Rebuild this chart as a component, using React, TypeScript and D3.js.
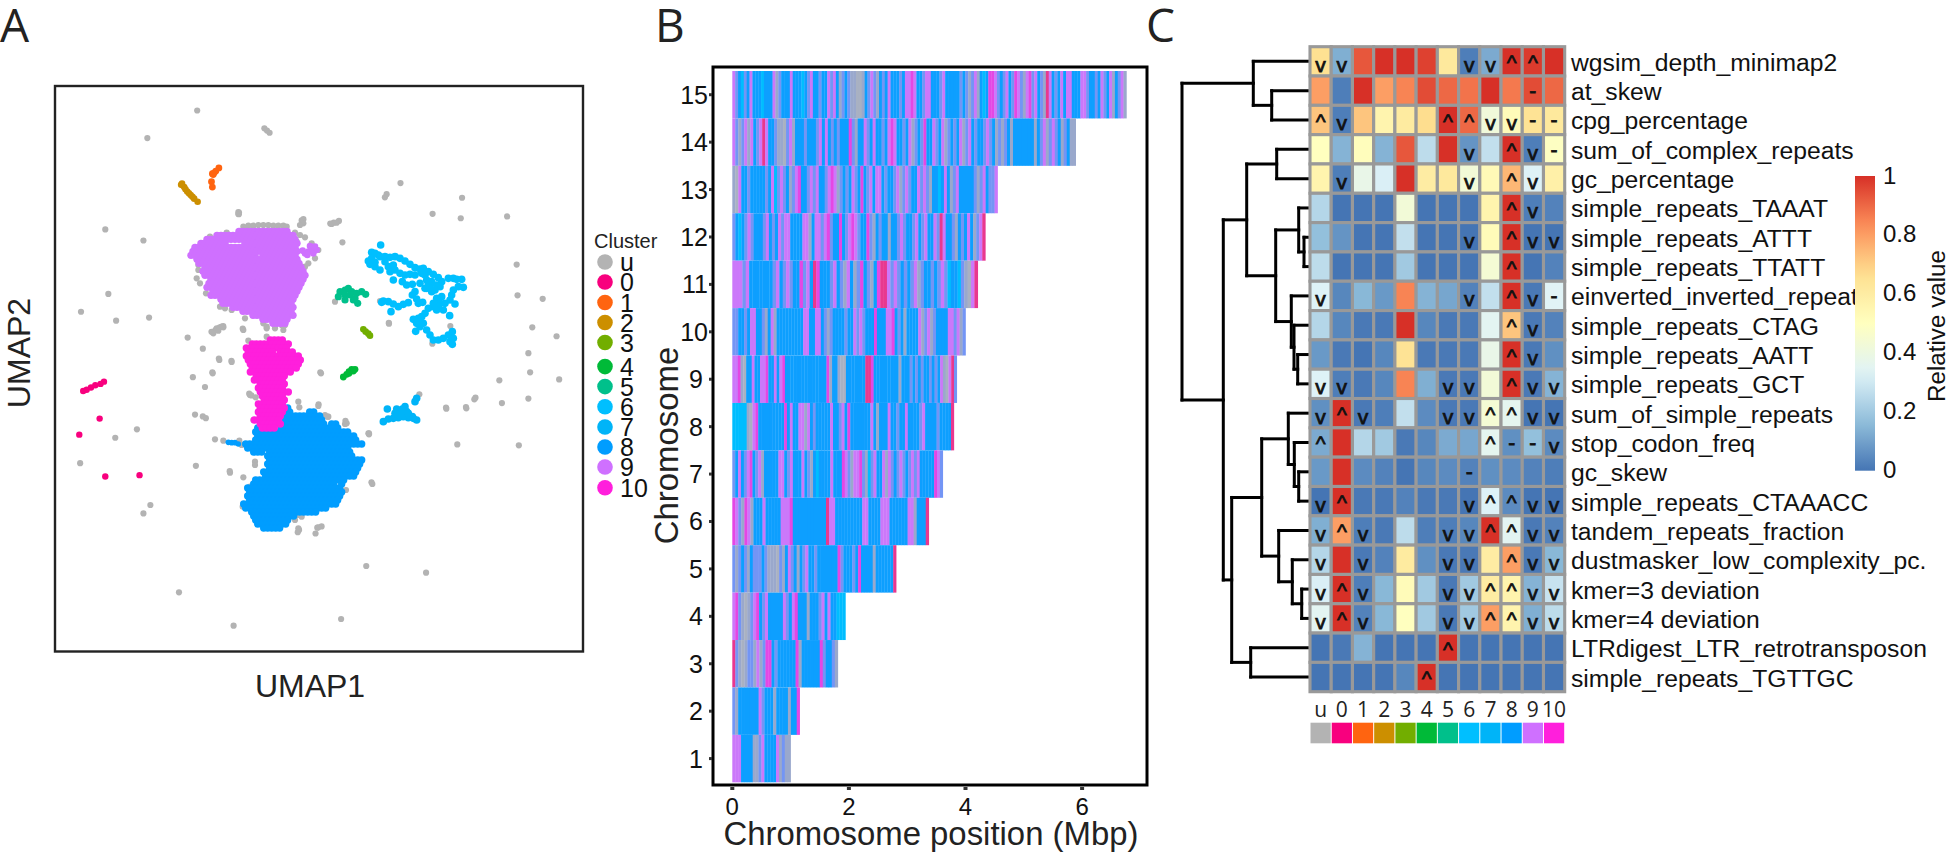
import React from "react";
import * as d3 from "d3";

const SANS = "'Liberation Sans', Arial, sans-serif";
const HUMAN = "'Open Sans', sans-serif";

// ---------- cluster legend ----------
const clusterNames = ["u", "0", "1", "2", "3", "4", "5", "6", "7", "8", "9", "10"];
const clusterColors = ["#b3b3b3", "#f8007e", "#ff6410", "#cc8f00", "#72ae00", "#00ba38", "#00c08b", "#00bfff", "#00b4f8", "#009dff", "#cf70ff", "#ff1fdc"];

const grayOverview = [[455,248],[340,310],[610,288],[616,293],[622,298],[924,411],[892,436],[888,443],[1066,444],[998,480],[1063,490],[1170,486],[243,515],[331,540],[550,476],[551,481],[696,495],[700,492],[762,502],[770,500],[782,496],[790,544],[1192,594],[250,660],[187,700],[268,720],[344,713],[1194,663],[1252,671],[1228,735],[1284,755],[1219,793],[1223,836],[1152,854],[1290,852],[1097,893],[1075,914],[1158,905],[1219,895],[1029,915],[1055,998],[1197,1000],[433,758],[468,783],[505,805],[534,810],[490,836],[445,847],[473,869],[488,745],[497,741],[507,735],[515,732],[560,738],[575,884],[580,888],[450,931],[468,935],[475,939],[739,836],[735,908],[266,983],[316,964],[185,1040],[452,1046],[347,1134],[331,1153],[530,1058],[845,1271],[983,1286],[413,1330],[539,1405],[787,1390],[857,1083],[850,973],[797,945],[897,725],[690,1190],[732,1185],[728,1198],[742,1182],[687,1195]];
const grayCropTop = [[190,50],[205,47],[220,47],[235,45],[250,45],[265,45],[280,47],[295,47],[310,47],[320,50],[140,68],[90,80],[65,100],[345,68],[360,75],[375,82],[350,95],[370,40],[360,45],[455,42],[470,38],[177,8],[175,12],[395,100],[415,120],[405,145],[385,160],[375,170],[360,168],[55,165],[55,180],[50,205],[60,220],[78,250],[120,290],[135,295],[155,300],[195,325],[250,340],[260,350],[285,355],[315,345],[125,350],[110,355]];
const grayCropMid = [[10,40],[25,32],[40,22],[100,30],[115,62],[28,120],[65,126],[8,160],[170,25],[195,20],[220,30],[215,15],[170,50],[260,108],[120,225],[137,232],[265,245],[268,262],[130,300],[325,258],[345,285],[355,290],[405,312],[477,343],[15,358],[40,362],[88,362],[95,375],[135,425],[135,435],[60,458],[100,472],[148,482],[487,492],[408,510],[98,560],[110,555],[265,585],[275,590],[255,600],[265,625],[325,622],[333,160],[120,500]];
const grayCropRight = [[30,230],[192,296],[322,356],[376,303],[165,228],[283,508],[364,551],[424,550],[448,523],[8,575],[65,595],[132,625]];

const cluster0Overview = [[192,878],[200,875],[210,870],[220,865],[232,862],[240,857],[230,940],[183,976],[243,1070],[322,1067]];
const cluster1Overview = [[505,377],[498,384],[490,390],[488,408],[490,420],[492,392],[494,388]];
const cluster2Overview = [[420,412],[425,420],[432,430],[440,438],[448,446],[456,453],[418,415],[428,425],[436,434],[444,442]];
const cluster3Crop = [[115,313],[122,320],[130,326],[135,332]];
const cluster4Crop = [[55,456],[65,448],[72,440],[80,433],[90,433],[72,445],[85,438]];
const cluster5Crop = [[45,200],[60,195],[70,190],[80,200],[95,205],[110,200],[122,208],[60,210],[75,210],[90,220],[98,235],[85,225],[40,215],[60,225]];
const cluster6Crop = [[167,60],[140,82],[150,85],[160,90],[130,108],[140,100],[135,118],[150,112],[165,95],[180,95],[195,97],[210,95],[225,100],[240,108],[255,118],[270,128],[285,132],[295,130],[310,140],[325,148],[340,158],[350,170],[345,185],[335,180],[320,170],[305,165],[300,150],[290,145],[150,125],[165,135],[180,110],[190,125],[205,120],[210,135],[195,140],[205,165],[225,145],[240,150],[255,148],[270,150],[285,175],[232,170],[245,180],[262,178],[270,200],[262,210],[275,222],[280,235],[250,233],[235,238],[220,245],[205,237],[190,230],[175,228],[170,232],[198,260],[293,232],[300,190],[305,190],[320,200],[335,220],[345,235],[355,255],[340,245],[325,245],[310,250],[300,265],[290,275],[280,280],[265,283],[275,295],[285,305],[295,295],[272,319],[305,315],[315,330],[325,345],[340,345],[355,340],[370,330],[382,320],[385,340],[375,350],[382,358],[374,272],[370,160],[385,160],[410,163],[395,163],[415,187],[400,185],[385,195],[380,210],[375,225],[360,235],[390,237],[350,215],[315,185],[330,195],[310,175],[325,235],[335,255],[285,290]];
const cluster7Crop = [[187,552],[215,552],[225,560],[240,545],[245,560],[232,552],[270,530],[275,520],[262,575],[275,585],[250,578],[235,575],[220,578],[205,580],[190,582],[175,590],[210,565],[240,570],[225,570],[250,565],[265,580]];
const cluster8Tail = [[55,367],[65,368],[75,368],[85,372]];
const cluster9Lobe = [[385,125],[395,115],[410,120],[375,130],[400,130],[390,108],[405,110],[382,135],[368,122]];

// Dense clouds: each '#' is one point read on a 12-unit grid of the crop, odd rows sit half a cell across.
const cluster8Origin = [104, 264];
const cluster8Map = [
"          ##",
"          ##    ##",
"          ##########",
"          ##########",
"         ############ ##",
"   ##    ###############",
"   ########################",
"   #########################",
"   ##########################",
"##############################",
" ##########################",
"  ###.#####################",
"      ######################",
"      ########################",
"      ########################",
"      #######################",
"     ########################",
"     #######################",
"   #######################",
"  #####################.#",
" ########################",
" ########################",
" ########################",
" #######################",
"########################",
"#####################",
"  #################",
"  ###########",
"   #########",
"   ########",
"     #####",
];
const cluster9Origin = [36, 64];
const cluster9Map = [
"            #############",
"      ####################",
"    #######################",
"  #######....##############",
" ##########################",
"###########################",
"#################.#########",
" ##########################",
"  ##########################",
"   #########################",
"   ##########################",
"   ##########################",
"    .########################",
"    ########################",
"    ########################",
"     ######################",
"     ######################",
"       ###################",
"        ##################",
"          ################",
"             #############",
"               ###########",
"                  #######",
"                    ####",
];
const cluster10Origin = [112, 60];
const cluster10Map = [
"      ####",
" ##########",
"###########",
"#######.####",
"##############",
"##############",
" #############",
" ############",
" ###########",
"  ########",
"  ########",
"   #######",
"   #######",
"   ########",
"    ######",
"    ######",
"   #######",
"   #######",
"   #######",
"   ######",
"  #######",
"   ######",
"    ####",
];

// ---------- panel B: one letter per bin along each chromosome ----------
const chromosomeIds = [15,14,13,12,11,10,9,8,7,6,5,4,3,2,1];
const chromosomeLengths = [6.76,5.89,4.55,4.34,4.21,4.0,3.85,3.8,3.61,3.37,2.81,1.94,1.81,1.155,1.0];
const chromosomeBins = [
"pxbcxbpbbbcbbbpgxbbbpbbbcbxpbbxbbpxpbgxbxgguugbxpxgbxbpbbbxbppmpbbxppbbbxpbbbbbxbxgxpgbcbmmpxbxpbxmpxgpmxpbxgrpbxbpbppbbbppxbbxbpxbpgbxpg",
"pxgxpgpbxprpbbxgguxpgbbbxbbbxpbpbxbxbbbmxgbbpxbpbbxbpmpbbxbpgxbxmbbpxbpgxbxbpgxpbxbbxpxbgxgxbgbbbbbbbgbxpgxpxbgxbgg",
"gupbbxbbbbbxbpcxpxbgxpmbbxpxpbbxpmpgxbxbpxbmbxpbppbxbbxpgxpxbbpxpxgbbcbpbgxpbbbbbxgxpbxxp",
"xbcbxpxbbbxpbxbpxppbbbbppgbppxpmxbbmbxpmpxbbmxgbxbbgbbxpxbbxpbxpbbpxrpbbxgbxbpbgxpr",
"pppxpbbbbbbbxpbxpxbbmxpbrmbbbxpbxgpbgxmbxgbmrrpxpxbxbxpgxbbxbxpxcbbcxgupr",
"xxbbxbppbbxgbpgbbbbbbbbbppbbppbxgxbbbbxbbpxpxbbbmbbbppmbxbgbbbbpgxpgxbbbbppxpgx",
"ppmgubbpbbppmbbpbpmbbbbbbbbbbbbbbbmgbbguubbbbbbbrrmbbbbbbbbbgbbbxbxbxbbxbxbpguprx",
"cccccgupmbbbbbbbbbmbpbbppgpbxbbbbbpbbxpbmbbbbbbbpbgbbbpbbxbbpbbbbxpbbbbxbbbbr",
"xbpbxpmbxpgbbbbbppbxpbbbpbxgbcbbbbpbbbmpxgppmxgcxpbbpgpxbxpxbxpxpbbbbbmpx",
"mpxgmpgbbbpbbbbbpppmbbbbbbbbbbbrppbbbbbbbbbppbbbbpppbbbbbbppgbbbr",
"xgxbxgbxxxbxggguxgbpxbgbxpbbxbbbbbbbmxbbbxbmbbbbgbbbbbbr",
"pmxgugxpmbxpbbbbbpxbpmbbbgbbbxpbpbbccc",
"rxgugxxgpgxmmbxbbbbbbmgbbbbbbmxbbxg",
"xgbbbbbbbpxbbbgbbbbgbbm",
"pppbbbbggxpbbbbpgxgg",
];
const binColors: Record<string,string> = { b: "#0f9fff", p: "#cb78fa", m: "#e446e4", r: "#e8388f", u: "#a9b1c2", c: "#00bdff", x: "#7395f5", g: "#9aa8cc" };
const xTicksMbp = [0, 2, 4, 6];

// ---------- panel C: heatmap ----------
const featureNames = ["wgsim_depth_minimap2","at_skew","cpg_percentage","sum_of_complex_repeats","gc_percentage","simple_repeats_TAAAT","simple_repeats_ATTT","simple_repeats_TTATT","einverted_inverted_repeat","simple_repeats_CTAG","simple_repeats_AATT","simple_repeats_GCT","sum_of_simple_repeats","stop_codon_freq","gc_skew","simple_repeats_CTAAACC","tandem_repeats_fraction","dustmasker_low_complexity_pc.","kmer=3 deviation","kmer=4 deviation","LTRdigest_LTR_retrotransposon","simple_repeats_TGTTGC"];
const heatValues = [
[.66,.13,.93,1,1,.97,.62,.02,.12,1,.98,1],
[.8,.02,1,.8,.85,.95,.9,.88,1,.87,.95,.9],
[.72,.02,.72,.56,.61,.67,1,.9,.42,.52,.65,.62],
[.5,.14,.51,.14,.93,.26,1,.07,.27,1,.02,.49],
[.56,.02,.38,.32,1,.6,.62,.43,.53,.75,.33,.58],
[.24,0,0,0,.43,0,0,0,.56,1,.02,.03],
[.17,.07,0,0,.27,0,0,0,.52,1,0,0],
[.26,0,0,0,.2,0,0,0,.44,1,0,.03],
[.33,.04,.15,.08,.85,.14,.11,.03,.27,1,.01,.34],
[.24,.04,.01,.01,1,.04,.01,.01,.35,.72,.01,.03],
[.08,.01,0,.04,.65,.01,.01,.01,.38,1,.01,.06],
[.33,.02,.01,.04,.85,.13,.01,.01,.43,1,.01,.14],
[.06,1,.01,.02,.27,.05,.01,.01,.44,.36,0,0],
[.12,1,.24,.2,.01,.04,.12,.11,.36,.06,.17,.05],
[.08,1,.05,.03,0,.04,.05,.03,.06,.05,.03,.02],
[0,1,.01,.01,.03,.01,.01,0,.33,.05,0,0],
[.13,.8,.02,.01,.26,.02,.02,.04,1,.35,.01,.03],
[.24,1,.01,.03,.61,.06,.01,.01,.6,.8,.01,.15],
[.32,1,.02,.15,.52,.2,.01,.2,.6,.56,.14,.28],
[.35,1,.03,.15,.5,.2,.01,.2,.8,.56,.13,.26],
[0,.01,.14,0,0,0,1,0,0,0,0,0],
[0,0,0,0,.04,1,0,0,0,0,0,0],
];
const heatMarks = ["vv.....vv^^.","..........-.","^v....^^vv--",".......v.^v-",".v.....v.^v.",".........^v.",".......v.^vv",".........^..","v......v.^v-",".........^v.",".........^v.","vv....vv.^vv","v^v...vv^^vv","^.......^--v",".......-....","v^.....v^^vv","v^v...vv^^vv","v.v...vv.^vv","v^v...vv^^vv","v^v...vv^^vv","......^.....",".....^......"];
// Node = [height, left, right]; a plain number is a row of the heatmap.
const dendrogram: any = [128,[56.7,0,[38.3,1,2]],[86.7,[63.3,[33.3,3,4],[34.3,[11.3,5,[6,6,7]],[18.7,8,[16,9,[12.3,10,11]]]]],[78.3,[48.3,[21.7,12,[15.7,13,[11.3,14,15]]],[31.3,16,[17.7,17,[8.3,18,19]]]],[59.3,20,21]]]];
const colorStops = ["#4575b4","#91bfdb","#e0f3f8","#ffffbf","#fee090","#fc8d59","#d73027"];
const colorTicks = [0,0.2,0.4,0.6,0.8,1];

// ---------- scales ----------
const frame = (dx: number[], dy: number[], rx: number[], ry: number[]) => ({ x: d3.scaleLinear().domain(dx).range(rx), y: d3.scaleLinear().domain(dy).range(ry) });
const frameOverview = frame([127,1345],[193,1463],[55,583],[86,651.5]);
const frameTop = frame([0,480],[0,360],[180,340],[210,330]);
const frameMid = frame([0,510],[0,630],[210,380],[320,530]);
const frameRight = frame([0,450],[0,630],[325,475],[225,435]);

const posX = d3.scaleLinear().domain([0,7]).range([732.3,1140.4]);
const posY = d3.scaleLinear().domain([0.5,15.5]).range([782.3,71]);
const heatX = d3.scaleBand<number>().domain(d3.range(12)).range([1310,1564.7]);
const heatY = d3.scaleBand<number>().domain(d3.range(22)).range([46.7,691.7]);
const heightX = d3.scaleLinear().domain([0,128]).range([1310,1182]);
const heatColor = d3.scaleLinear<string>().domain(colorStops.map((_, i) => i / 6)).range(colorStops);
const barY = d3.scaleLinear().domain([0,1]).range([470.7,176]);

function readMap(map: string[], origin: number[]) {
  const pts: number[][] = [];
  map.forEach((row, r) => row.split("").forEach((ch, c) => { if (ch === "#") pts.push([origin[0] + c * 12 + (r % 2) * 6 - 3, origin[1] + r * 12]); }));
  return pts;
}

function Dots({ pts, f, color, r }: any) {
  return <g fill={color}>{pts.map((p: number[], i: number) => <circle key={i} cx={f.x(p[0])} cy={f.y(p[1])} r={r} />)}</g>;
}

function treeSegments() {
  const segs: number[][] = [];
  const walk = (n: any): { y: number; x: number } => {
    if (typeof n === "number") return { y: heatY(n)! + heatY.bandwidth() / 2, x: heightX(0) };
    const a = walk(n[1]);
    const b = walk(n[2]);
    const x = heightX(n[0]);
    segs.push([x, a.y, x, b.y], [x, a.y, a.x, a.y], [x, b.y, b.x, b.y]);
    return { y: (a.y + b.y) / 2, x };
  };
  walk(dendrogram);
  return segs;
}

export default function App() {
  const cellW = heatX.bandwidth();
  const cellH = heatY.bandwidth();
  return (
    <svg width={1952} height={852} style={{ position: "absolute", left: 0, top: 0, display: "block", background: "#fff" }}>
      <defs>
        <filter id="softBins" x="0" y="0" width="1" height="1"><feGaussianBlur stdDeviation="0.6 0" /></filter>
        <linearGradient id="barGrad" x1="0" y1="1" x2="0" y2="0">
          {d3.range(0, 1.001, 0.05).map((t) => <stop key={t} offset={t} stopColor={heatColor(t)} />)}
        </linearGradient>
      </defs>

      <g fontFamily={HUMAN} fontSize={46} fill="#222">
        <text x={0} y={42}>A</text>
        <text x={655} y={42}>B</text>
        <text x={1146} y={42}>C</text>
      </g>

      {/* Panel A */}
      <Dots pts={grayOverview} f={frameOverview} color={clusterColors[0]} r={3.1} />
      <Dots pts={grayCropTop} f={frameTop} color={clusterColors[0]} r={3.1} />
      <Dots pts={grayCropMid} f={frameMid} color={clusterColors[0]} r={3.1} />
      <Dots pts={grayCropRight} f={frameRight} color={clusterColors[0]} r={3.1} />
      <Dots pts={cluster0Overview} f={frameOverview} color={clusterColors[1]} r={3.2} />
      <Dots pts={cluster1Overview} f={frameOverview} color={clusterColors[2]} r={3.4} />
      <Dots pts={cluster2Overview} f={frameOverview} color={clusterColors[3]} r={3.3} />
      <Dots pts={cluster3Crop} f={frameRight} color={clusterColors[4]} r={3.3} />
      <Dots pts={cluster4Crop} f={frameRight} color={clusterColors[5]} r={3.4} />
      <Dots pts={cluster5Crop} f={frameRight} color={clusterColors[6]} r={3.6} />
      <Dots pts={cluster6Crop} f={frameRight} color={clusterColors[7]} r={3.8} />
      <Dots pts={cluster7Crop} f={frameRight} color={clusterColors[8]} r={3.8} />
      <Dots pts={cluster8Tail} f={frameMid} color={clusterColors[9]} r={2.8} />
      <Dots pts={readMap(cluster8Map, cluster8Origin)} f={frameMid} color={clusterColors[9]} r={3.7} />
      <Dots pts={readMap(cluster9Map, cluster9Origin)} f={frameTop} color={clusterColors[10]} r={3.7} />
      <Dots pts={cluster9Lobe} f={frameTop} color={clusterColors[10]} r={3.3} />
      <Dots pts={readMap(cluster10Map, cluster10Origin)} f={frameMid} color={clusterColors[11]} r={3.7} />
      <rect x={55} y={86} width={528} height={565.5} fill="none" stroke="#222" strokeWidth={2.4} />
      <text x={310} y={697} textAnchor="middle" fontFamily={SANS} fontSize={32} fill="#222">UMAP1</text>
      <text transform="translate(30,353) rotate(-90)" textAnchor="middle" fontFamily={SANS} fontSize={32} fill="#222">UMAP2</text>

      {/* Legend */}
      <text x={594} y={248} fontFamily={SANS} fontSize={20} fill="#222">Cluster</text>
      {clusterNames.map((n, i) => {
        const y = [262,282,302.5,322.5,342.5,366.6,386.6,406.7,427,447,467,487.8][i];
        return (
          <g key={n}>
            <circle cx={605} cy={y} r={7.8} fill={clusterColors[i]} />
            <text x={620} y={y + 9} fontFamily={SANS} fontSize={25} fill="#111">{n}</text>
          </g>
        );
      })}

      {/* Panel B */}
      <g filter="url(#softBins)">
        {chromosomeIds.map((id, row) => {
          const bins = chromosomeBins[row];
          const end = chromosomeLengths[row];
          const w = end / bins.length;
          const top = posY(id + 0.5);
          const h = posY(id - 0.5) - top;
          return bins.split("").map((ch, i) => (
            <rect key={id + "-" + i} x={posX(i * w)} y={top} width={posX(w) - posX(0) + 0.3} height={h} fill={binColors[ch]} />
          ));
        })}
      </g>
      <rect x={713} y={67} width={434} height={718} fill="none" stroke="#000" strokeWidth={3} />
      {chromosomeIds.map((id) => (
        <g key={id}>
          <rect x={709} y={posY(id) - 1.5} width={3} height={3} fill="#333" />
          <text x={id > 9 ? 708 : 703} y={posY(id) + 9} textAnchor="end" fontFamily={SANS} fontSize={25} fill="#111">{id}</text>
        </g>
      ))}
      {xTicksMbp.map((t) => (
        <g key={t}>
          <rect x={posX(t) - 2} y={787} width={4} height={3} fill="#333" />
          <text x={posX(t)} y={815} textAnchor="middle" fontFamily={SANS} fontSize={24} fill="#111">{t}</text>
        </g>
      ))}
      <text x={931} y={845} textAnchor="middle" fontFamily={SANS} fontSize={32.9} fill="#222">Chromosome position (Mbp)</text>
      <text transform="translate(678,445.5) rotate(-90)" textAnchor="middle" fontFamily={SANS} fontSize={32.9} fill="#222">Chromosome</text>

      {/* Panel C */}
      <g stroke="#000" strokeWidth={3} strokeLinecap="square">
        {treeSegments().map((s, i) => <line key={i} x1={s[0]} y1={s[1]} x2={s[2]} y2={s[3]} />)}
      </g>
      {heatValues.map((row, r) => row.map((v, c) => (
        <rect key={r + "-" + c} x={heatX(c)} y={heatY(r)} width={cellW} height={cellH} fill={heatColor(v)} stroke="#999" strokeWidth={3.1} />
      )))}
      <g fontFamily={SANS} fontSize={21} fill="#111" textAnchor="middle" stroke="#111" strokeWidth={0.75}>
        {heatMarks.map((row, r) => row.split("").map((m, c) => {
          if (m === ".") return null;
          const cx = heatX(c)! + cellW / 2;
          const cy = heatY(r)! + cellH / 2;
          const y = m === "^" ? cy + 9 : m === "v" ? cy + 10.5 : cy + 7.5;
          return <text key={r + "-" + c} x={cx} y={y}>{m}</text>;
        }))}
      </g>
      <g fontFamily={SANS} fontSize={24.7} fill="#111">
        {featureNames.map((n, r) => <text key={n} x={1571} y={heatY(r)! + cellH / 2 + 9.5}>{n}</text>)}
      </g>
      <g fontFamily={HUMAN} fontSize={21} fill="#222" textAnchor="middle">
        {clusterNames.map((n, c) => <text key={n} x={heatX(c)! + cellW / 2} y={716.7}>{n}</text>)}
      </g>
      {clusterNames.map((n, c) => (
        <rect key={n} x={heatX(c)! + 0.5} y={722.7} width={cellW - 1} height={20.6} fill={clusterColors[c]} />
      ))}

      {/* Colour bar */}
      <rect x={1855} y={176} width={20} height={294.7} fill="url(#barGrad)" />
      <g fontFamily={SANS} fontSize={24} fill="#111">
        {colorTicks.map((t) => <text key={t} x={1883} y={barY(t) + 7.5}>{t}</text>)}
      </g>
      <text transform="translate(1945,326) rotate(-90)" textAnchor="middle" fontFamily={SANS} fontSize={24.2} fill="#111">Relative value</text>
    </svg>
  );
}
